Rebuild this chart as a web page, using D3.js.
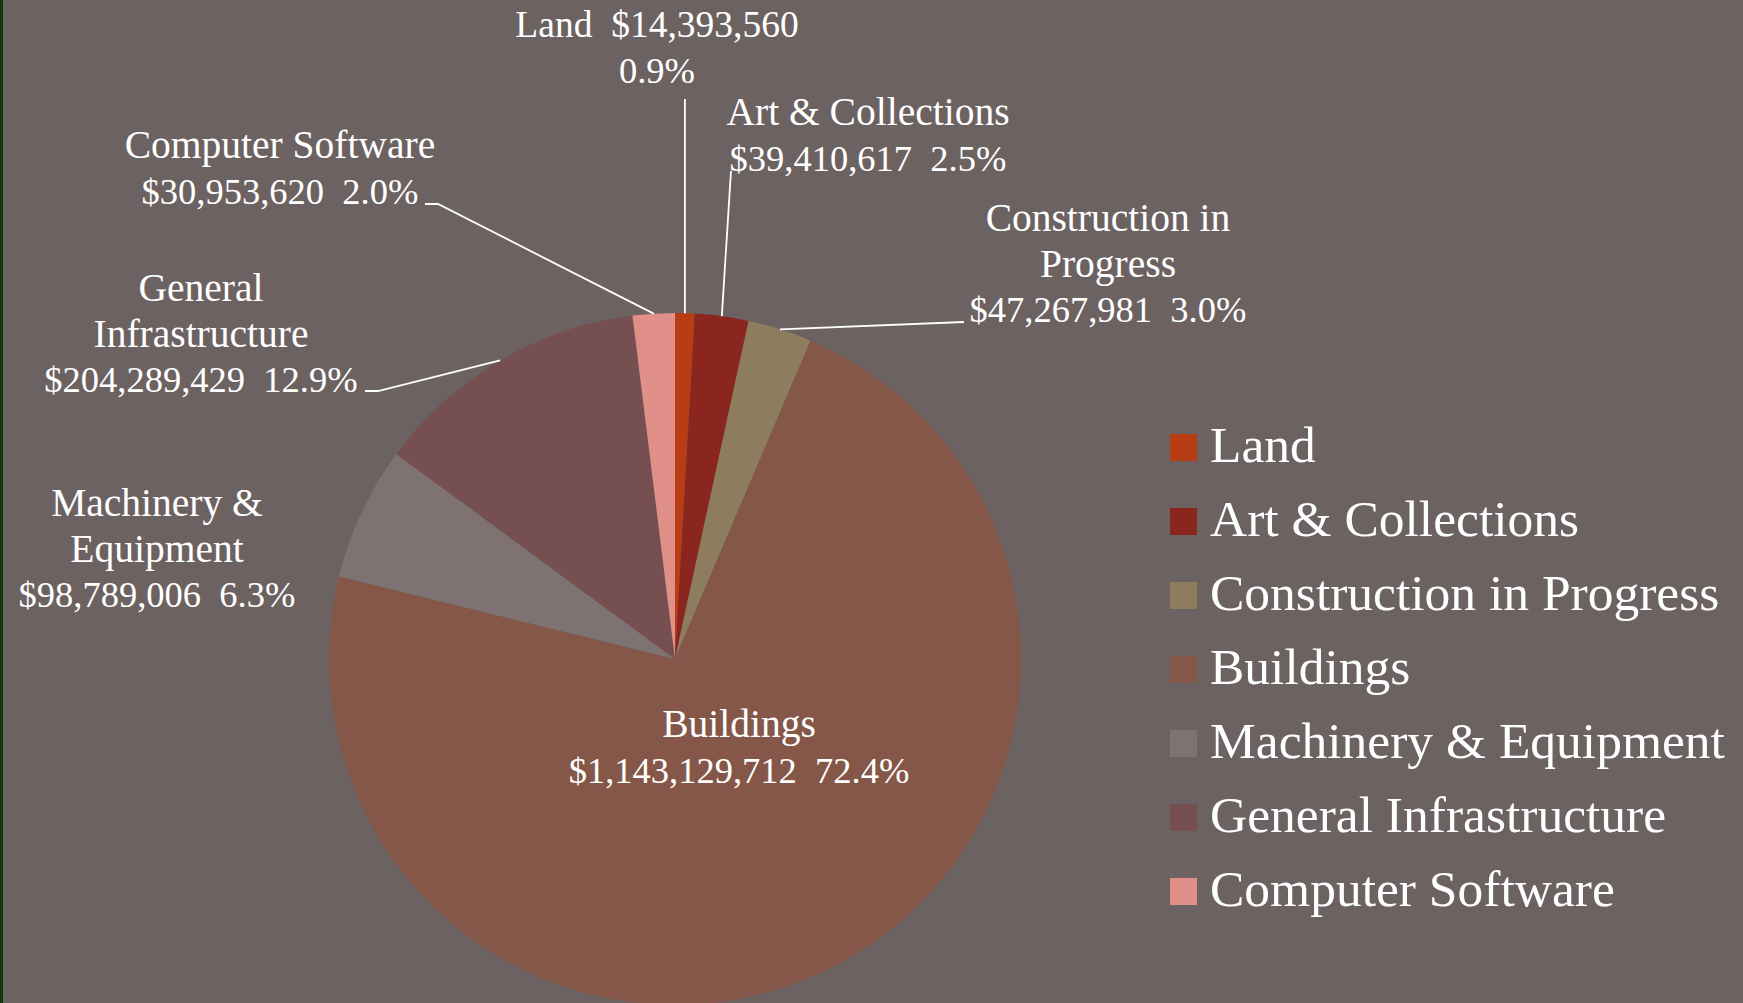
<!DOCTYPE html>
<html>
<head>
<meta charset="utf-8">
<script src="https://cdn.jsdelivr.net/npm/d3@7"></script>
<style>
  body { margin: 0; background: #6d6262; overflow: hidden; }
  text { font-family: "Liberation Serif", "Times New Roman", serif; fill: #fff; white-space: pre; }
</style>
</head>
<body>
<svg id="chart" width="1743" height="1003"></svg>
<script>
// capital assets by category
var categories = ["Land", "Art & Collections", "Construction in Progress", "Buildings",
                  "Machinery & Equipment", "General Infrastructure", "Computer Software"]
var values = [14393560, 39410617, 47267981, 1143129712, 98789006, 204289429, 30953620]
var colors = ["#b83d15", "#8a261e", "#8e7c5e", "#845748", "#7e7272", "#765051", "#e08f89"]

// how each data label wraps, {v} = value, {p} = percent
var labelText = ["Land  {v}|{p}", "Art & Collections|{v}  {p}", "Construction in|Progress|{v}  {p}",
                 "Buildings|{v}  {p}", "Machinery &|Equipment|{v}  {p}", "General|Infrastructure|{v}  {p}",
                 "Computer Software|{v}  {p}"]

// label layout: centre x, first baseline, leader start points (null = no leader)
var labelPos = [
  {x: 657, y: 37, lead: [[685, 99]]},
  {x: 868, y: 125, lead: [[731, 171]]},
  {x: 1108, y: 231, lead: [[964, 322]]},
  {x: 739, y: 737, lead: null},
  {x: 157, y: 516, lead: null},
  {x: 201, y: 301, lead: [[365, 391], [378, 391]]},
  {x: 280, y: 158, lead: [[425, 204], [438, 204]]}
]

var svg = d3.select("#chart")
var W = 1743, H = 1003
var cx = 675, cy = 659, r = 346
var lineH = 45.5

svg.append("rect").attr("width", W).attr("height", H).attr("fill", "#6d6262")
svg.append("rect").attr("width", 3).attr("height", H).attr("fill", "#0b3d0b")

var total = d3.sum(values)
var fmtV = d3.format("$,")
var fmtP = d3.format(".1%")

var data = categories.map(function(c, i) { return {name: c, value: values[i], i: i} })

var pie = d3.pie().sort(null).value(function(d) { return d.value })
var arcs = pie(data)
var arc = d3.arc().innerRadius(0).outerRadius(r)
var edge = d3.arc().innerRadius(r).outerRadius(r)

var g = svg.append("g").attr("transform", "translate(" + cx + "," + cy + ")")

g.selectAll(".slice")
  .data(arcs)
  .enter().append("path")
  .attr("class", "slice")
  .attr("d", arc)
  .attr("fill", function(d) { return colors[d.data.i] })

// leader lines
arcs.forEach(function(d) {
  var lp = labelPos[d.data.i]
  if (!lp.lead) return
  var c = edge.centroid(d)
  var pts = lp.lead.slice()
  if (d.data.i == 0) pts = [[cx + c[0], lp.lead[0][1]]]
  pts.push([cx + c[0], cy + c[1]])
  svg.append("path")
    .attr("d", d3.line()(pts))
    .attr("fill", "none")
    .attr("stroke", "#fff")
    .attr("stroke-width", 1.8)
})

// data labels (number lines a bit smaller, the original uses old-style figures)
arcs.forEach(function(d) {
  var i = d.data.i
  var lp = labelPos[i]
  var lines = labelText[i].split("|")
  var t = svg.append("text")
    .attr("text-anchor", "middle")
  lines.forEach(function(l, k) {
    var size = l.indexOf("{") == 0 ? 36.5 : (l.indexOf("{") > 0 ? 37.5 : 39.5)
    var s = l.replace("{v}", fmtV(d.data.value)).replace("{p}", fmtP(d.data.value / total))
    t.append("tspan").attr("x", lp.x).attr("y", lp.y + k * lineH)
      .style("font-size", size + "px")
      .text(s)
  })
})

// legend
var legend = svg.append("g").attr("transform", "translate(1170,462)")
var item = legend.selectAll(".item")
  .data(categories)
  .enter().append("g")
  .attr("class", "item")
  .attr("transform", function(d, i) { return "translate(0," + (i * 74) + ")" })

item.append("rect")
  .attr("x", 0).attr("y", -28)
  .attr("width", 27).attr("height", 27)
  .attr("fill", function(d, i) { return colors[i] })

item.append("text")
  .attr("x", 40).attr("y", 0)
  .style("font-size", "51.5px")
  .text(function(d) { return d })
</script>
</body>
</html>
